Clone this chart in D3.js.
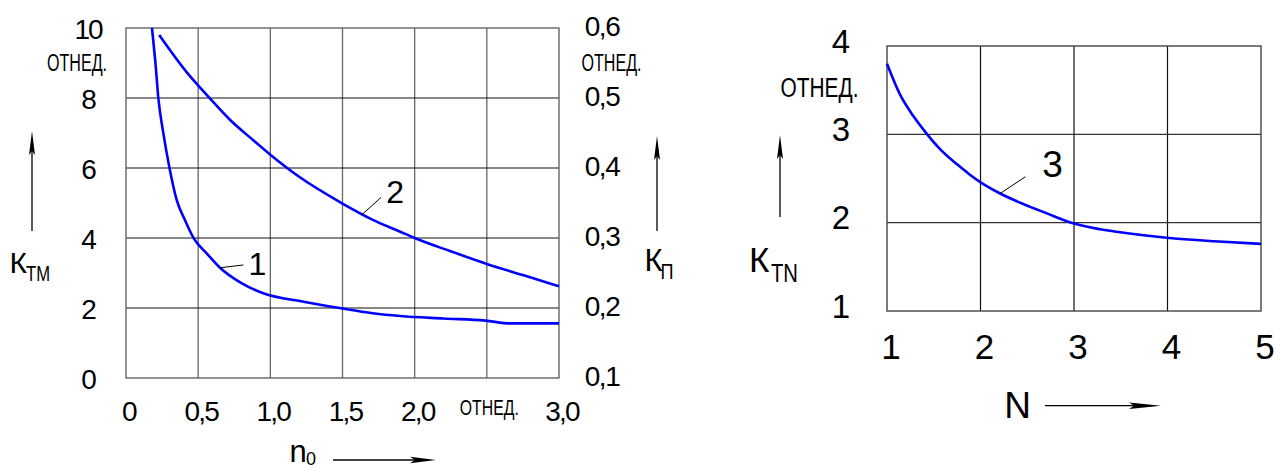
<!DOCTYPE html>
<html><head><meta charset="utf-8">
<script src="https://cdn.jsdelivr.net/npm/d3@7"></script>
<style>
body{margin:0;background:#fff}
svg{display:block}
text{font-family:"Liberation Sans",Arial,Helvetica,sans-serif;fill:#000}
</style>
</head><body>
<svg id="c" width="1274" height="470"></svg>
<script>
// ---------- data ----------
const nTicks = [0, 0.5, 1, 1.5, 2, 2.5, 3];
const nTickLabels = ["0", "0,5", "1,0", "1,5", "2,0", "ОТНЕД.", "3,0"];
const ktmTicks = [0, 2, 4, 6, 8, 10];
const ktmTickLabels = ["0", "2", "4", "6", "8", "10"];
const kpTicks = [0.1, 0.2, 0.3, 0.4, 0.5, 0.6];
const kpTickLabels = ["0,1", "0,2", "0,3", "0,4", "0,5", "0,6"];
const NTicks = [1, 2, 3, 4, 5];
const NTickLabels = ["1", "2", "3", "4", "5"];
const ktnTicks = [1, 2, 3, 4];
const ktnTickLabels = ["1", "2", "3", "4"];
const unitLabel = "ОТНЕД.";

// curve 1: K_TM vs n0 (left axis)
const curve1N = [0.18, 0.206, 0.224, 0.259, 0.30, 0.351, 0.409, 0.471, 0.559, 0.651, 0.80, 0.951, 1.23, 1.48, 1.71, 1.90, 2.20, 2.49, 2.66, 3.0];
const curve1K = [10.0, 8.9, 8.0, 6.99, 6.03, 5.09, 4.51, 3.98, 3.56, 3.15, 2.71, 2.42, 2.18, 2.00, 1.85, 1.77, 1.70, 1.64, 1.56, 1.56];
// curve 2: K_P vs n0 (right axis)
const curve2N = [0.23, 0.42, 0.57, 0.72, 0.88, 1.0, 1.21, 1.485, 1.71, 1.90, 2.0, 2.25, 2.5, 2.75, 3.0];
const curve2P = [0.590, 0.537, 0.502, 0.469, 0.440, 0.419, 0.386, 0.351, 0.326, 0.309, 0.300, 0.281, 0.263, 0.247, 0.231];
// curve 3: K_TN vs N
const curve3N = [1.0, 1.14, 1.28, 1.43, 1.57, 1.75, 1.89, 2.01, 2.21, 2.46, 2.71, 2.98, 3.28, 3.57, 3.99, 4.5, 5.0];
const curve3K = [3.80, 3.45, 3.21, 3.00, 2.83, 2.66, 2.54, 2.45, 2.33, 2.21, 2.105, 1.995, 1.925, 1.88, 1.83, 1.79, 1.76];

// curve number labels with leaders (data coordinates)
const label1 = {text: "1", leader: [[0.651, 3.15], [0.813, 3.23]], at: [0.91, 3.28]};
const label2 = {text: "2", leader: [[1.633, 0.333], [1.767, 0.358]], at: [1.864, 0.366]};
const label3 = {text: "3", leader: [[2.21, 2.33], [2.48, 2.52]], at: [2.77, 2.67]};

// ---------- scales ----------
const svg = d3.select("#c");
const xL = d3.scaleLinear().domain([0, 3]).range([126, 559]);
const yL = d3.scaleLinear().domain([0, 10]).range([378, 28]);
const yR = d3.scaleLinear().domain([0.1, 0.6]).range([378, 28]);
const xN = d3.scaleLinear().domain([1, 5]).range([887, 1261]);
const yN = d3.scaleLinear().domain([1, 4]).range([311, 46]);

function txt(s, cx, cy, fs, ls, anchor) {
  return svg.append("text")
    .attr("x", cx).attr("y", cy + 0.358 * fs)
    .attr("text-anchor", anchor || "middle")
    .attr("font-size", fs)
    .attr("letter-spacing", ls || 0)
    .text(s);
}
function squeezed(s, cx, cy, fs, len) {
  return svg.append("text")
    .attr("x", cx).attr("y", cy + 0.358 * fs)
    .attr("text-anchor", "middle")
    .attr("font-size", fs)
    .attr("textLength", len).attr("lengthAdjust", "spacingAndGlyphs")
    .text(s);
}
function arrowUp(x, yTip, yBot) {
  svg.append("line").attr("x1", x).attr("x2", x).attr("y1", yBot).attr("y2", yTip + 16)
    .attr("stroke", "#000").attr("stroke-width", 1.3);
  svg.append("path").attr("d", `M${x},${yTip} L${x + 3},${yTip + 24} L${x},${yTip + 20} L${x - 3},${yTip + 24} Z`)
    .attr("fill", "#000");
}
function arrowRight(xL0, xTip, y, head) {
  svg.append("line").attr("x1", xL0).attr("x2", xTip - 14).attr("y1", y).attr("y2", y)
    .attr("stroke", "#000").attr("stroke-width", 1.3);
  svg.append("path").attr("d", `M${xTip},${y} L${xTip - head},${y - 3.2} L${xTip - head + 5},${y} L${xTip - head},${y + 3.2} Z`)
    .attr("fill", "#000");
}

// ---------- left chart grid ----------
const gL = svg.append("g");
gL.append("g").selectAll("line").data(nTicks.slice(1, -1)).join("line")
  .attr("x1", d => xL(d)).attr("x2", d => xL(d)).attr("y1", yL(0)).attr("y2", yL(10))
  .attr("stroke", "#666").attr("stroke-width", 1.3);
gL.append("g").selectAll("line").data(ktmTicks.slice(1, -1)).join("line")
  .attr("x1", xL(0)).attr("x2", xL(3)).attr("y1", d => yL(d)).attr("y2", d => yL(d))
  .attr("stroke", "#111").attr("stroke-width", 1.1);
gL.append("rect").attr("x", xL(0)).attr("y", yL(10)).attr("width", xL(3) - xL(0)).attr("height", yL(0) - yL(10))
  .attr("fill", "none").attr("stroke", "#666").attr("stroke-width", 1.4);

// ---------- right chart grid ----------
const gR = svg.append("g");
gR.append("g").selectAll("line").data(NTicks.slice(1, -1)).join("line")
  .attr("x1", d => xN(d)).attr("x2", d => xN(d)).attr("y1", yN(1)).attr("y2", yN(4))
  .attr("stroke", "#111").attr("stroke-width", 1.2);
gR.append("g").selectAll("line").data(ktnTicks.slice(1, -1)).join("line")
  .attr("x1", xN(1)).attr("x2", xN(5)).attr("y1", d => yN(d)).attr("y2", d => yN(d))
  .attr("stroke", "#333").attr("stroke-width", 1.3);
gR.append("rect").attr("x", xN(1)).attr("y", yN(4)).attr("width", xN(5) - xN(1)).attr("height", yN(1) - yN(4))
  .attr("fill", "none").attr("stroke", "#444").attr("stroke-width", 1.4);

// ---------- curves ----------
const blue = "#0000ff";
const line1 = d3.line().x(d => xL(d[0])).y(d => yL(d[1])).curve(d3.curveMonotoneX);
const line2 = d3.line().x(d => xL(d[0])).y(d => yR(d[1])).curve(d3.curveMonotoneX);
const line3 = d3.line().x(d => xN(d[0])).y(d => yN(d[1])).curve(d3.curveMonotoneX);
svg.append("path").attr("d", line1(d3.zip(curve1N, curve1K))).attr("fill", "none").attr("stroke", blue).attr("stroke-width", 2.6);
svg.append("path").attr("d", line2(d3.zip(curve2N, curve2P))).attr("fill", "none").attr("stroke", blue).attr("stroke-width", 2.6);
svg.append("path").attr("d", line3(d3.zip(curve3N, curve3K))).attr("fill", "none").attr("stroke", blue).attr("stroke-width", 2.6);

// leaders + numbers
function leader(lb, xs, ys, fs) {
  svg.append("line")
    .attr("x1", xs(lb.leader[0][0])).attr("y1", ys(lb.leader[0][1]))
    .attr("x2", xs(lb.leader[1][0])).attr("y2", ys(lb.leader[1][1]))
    .attr("stroke", "#000").attr("stroke-width", 1);
  txt(lb.text, xs(lb.at[0]), ys(lb.at[1]), fs);
}
leader(label1, xL, yL, 32);
leader(label2, xL, yR, 32);
leader(label3, xN, yN, 37);

// ---------- tick labels: left chart ----------
ktmTicks.forEach((t, i) => txt(ktmTickLabels[i], 88, yL(t) + 1, 28, -2));
squeezed(unitLabel, 77, yL(9), 23, 60);
kpTicks.forEach((t, i) => txt(kpTickLabels[i], 602, yR(t) - 2, 28, -1.5));
squeezed(unitLabel, 611.5, yR(0.55), 23, 60);
nTicks.forEach((t, i) => {
  if (nTickLabels[i] === unitLabel) squeezed(unitLabel, xL(t) + 2.5, 407, 22, 59);
  else txt(nTickLabels[i], xL(t) + 3, 411, 28, -1.8);
});

// axis titles left chart
arrowUp(32, 131, 231);
txt("К", 9.5, 262.5, 30, 0, "start");
svg.append("text").attr("x", 26).attr("y", 281).attr("font-size", 22)
  .attr("textLength", 24).attr("lengthAdjust", "spacingAndGlyphs").text("ТМ");
arrowUp(657, 136, 231);
txt("К", 644.5, 260, 31, 0, "start");
svg.append("text").attr("x", 660.5).attr("y", 279).attr("font-size", 22)
  .attr("textLength", 13).attr("lengthAdjust", "spacingAndGlyphs").text("П");
svg.append("text").attr("x", 289.5).attr("y", 462).attr("font-size", 31).text("n");
svg.append("text").attr("x", 306).attr("y", 465).attr("font-size", 18).text("0");
arrowRight(333, 436, 460, 26);

// ---------- tick labels: right chart ----------
ktnTicks.forEach((t, i) => txt(ktnTickLabels[i], 841, yN(t) - 5, 33));
squeezed(unitLabel, 819.5, 87, 27, 78);
NTicks.forEach((t, i) => txt(NTickLabels[i], xN(t) + 4, 346, 35));
arrowUp(780, 135, 217);
txt("К", 749, 259, 35, 0, "start");
svg.append("text").attr("x", 771).attr("y", 281.7).attr("font-size", 25.5)
  .attr("textLength", 27).attr("lengthAdjust", "spacingAndGlyphs").text("TN");
txt("N", 1017.5, 405, 37);
arrowRight(1045, 1161, 405.7, 32);
</script>
</body></html>
